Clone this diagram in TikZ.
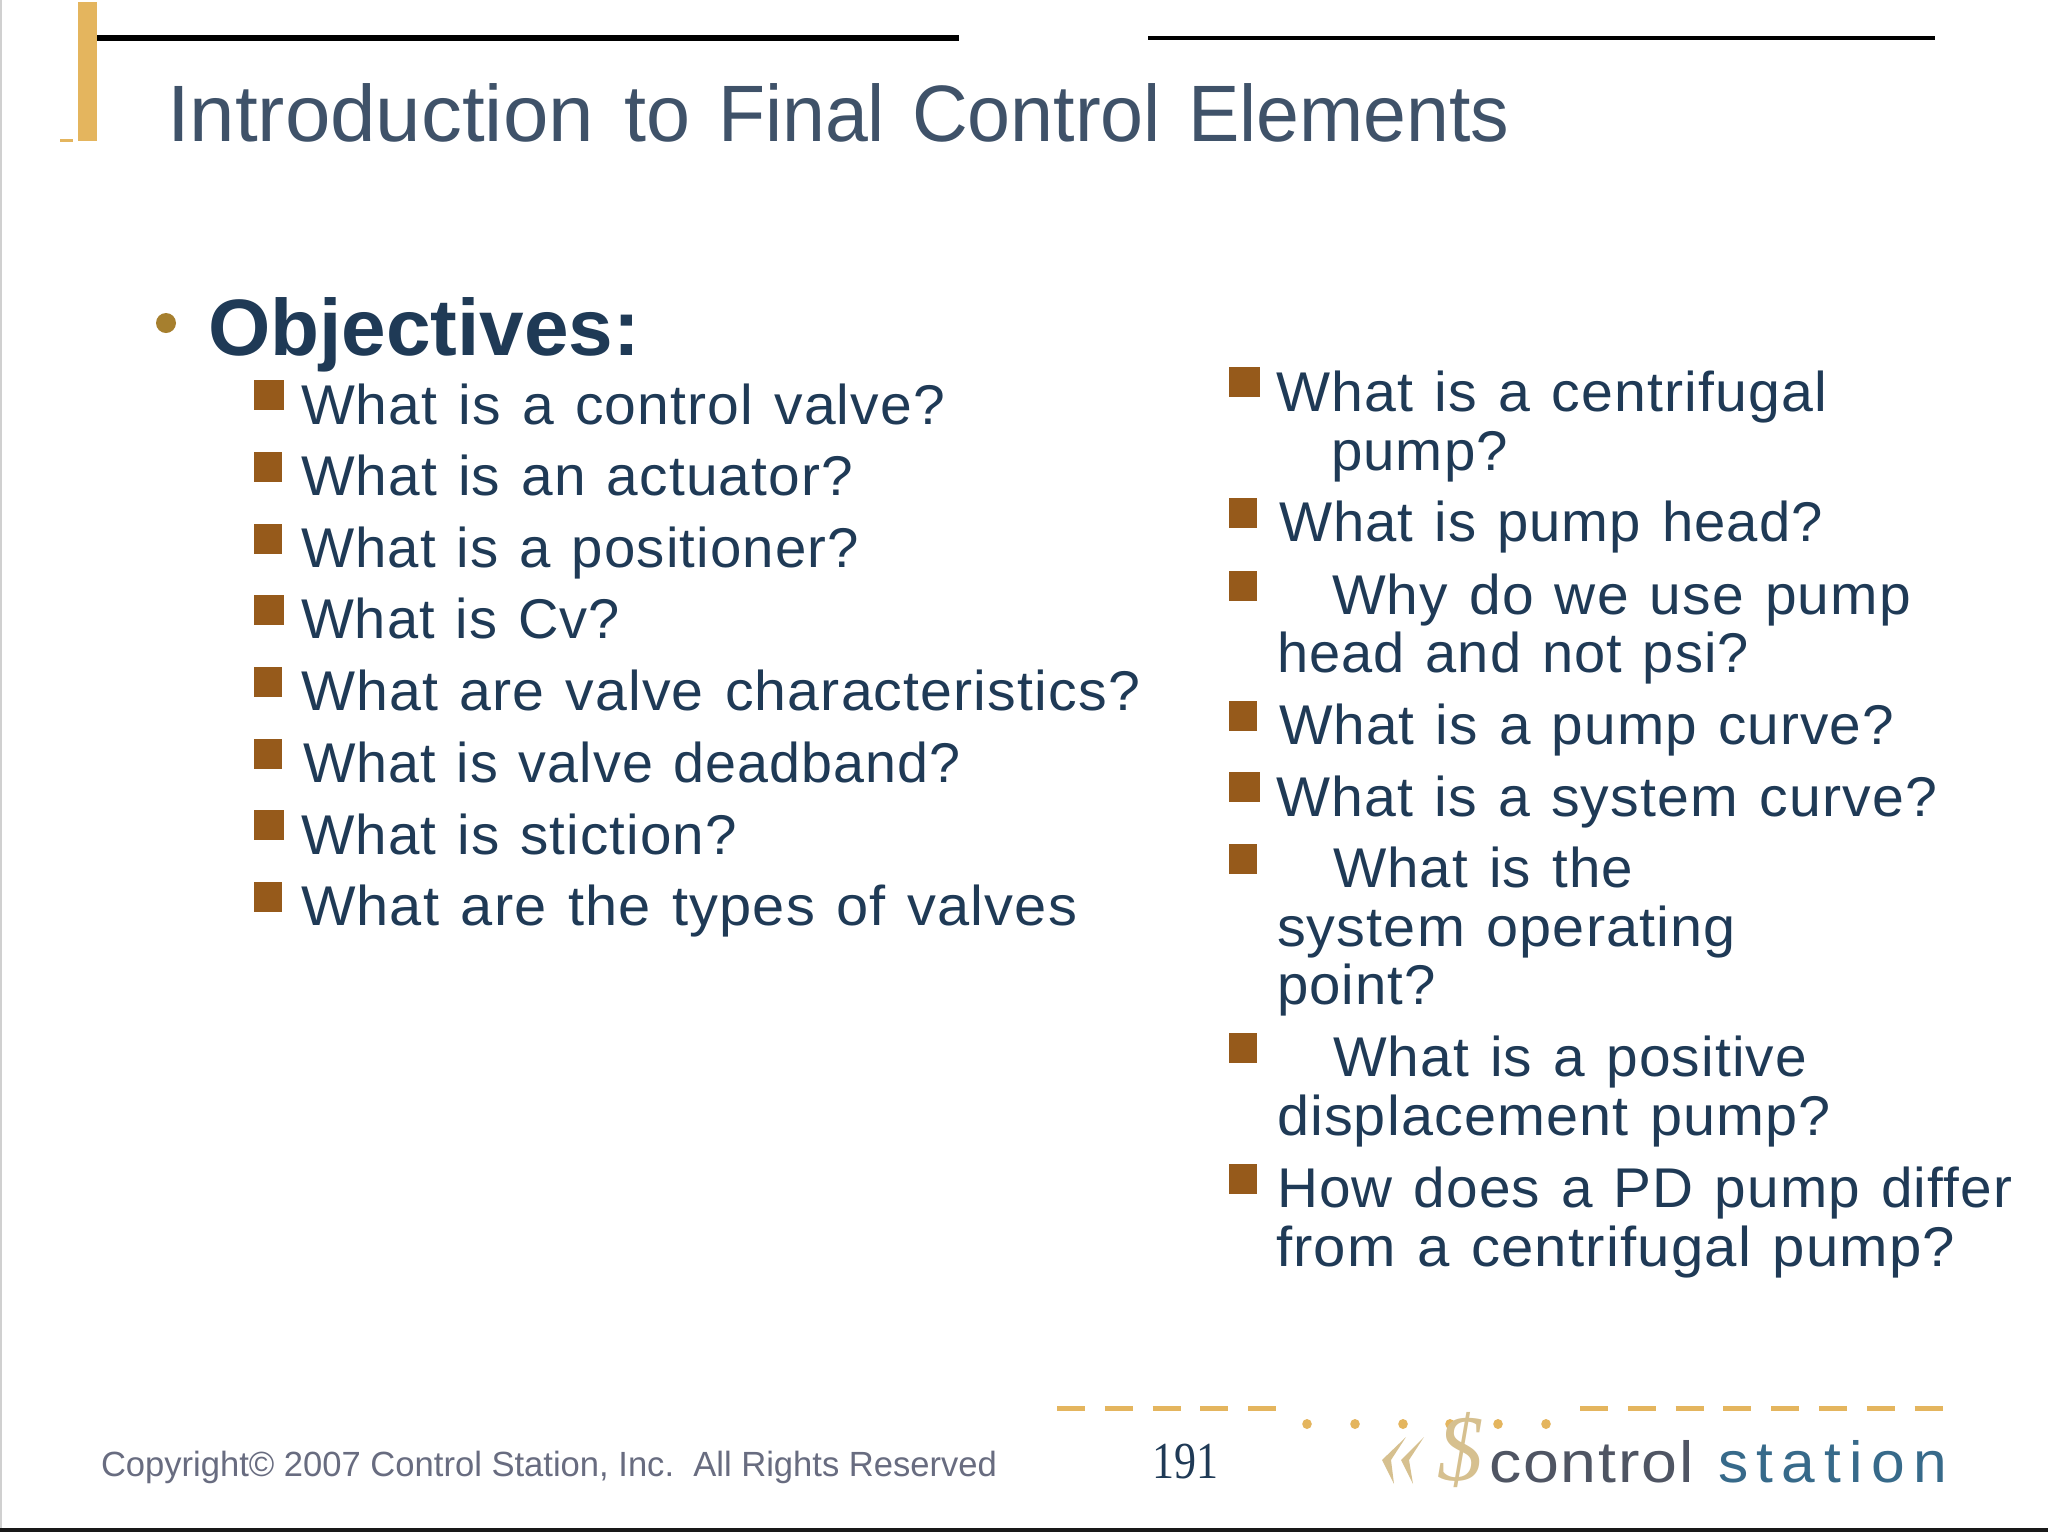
\documentclass[tikz,border=0pt]{standalone}
\usepackage{graphicx}
\usepackage{fontspec}
\setmainfont{Liberation Sans}
\newfontfamily\itemfont[LetterSpace=2,WordSpace=1.25]{Liberation Sans}
\newfontfamily\logofont[LetterSpace=3]{Liberation Sans}
\newfontfamily\logofontb[LetterSpace=14]{Liberation Sans}
\newfontfamily\serifnum{Liberation Serif}
\definecolor{barcol}{HTML}{E4B55E}
\definecolor{titlecol}{HTML}{3F5269}
\definecolor{navy}{HTML}{1F3A56}
\definecolor{brown}{HTML}{965A1B}
\definecolor{dotcol}{HTML}{A67F2E}
\definecolor{logotan}{HTML}{D6C08F}
\definecolor{logogray}{HTML}{4F5563}
\definecolor{logoblue}{HTML}{376A8A}
\definecolor{copycol}{HTML}{686C80}
\definecolor{edgecol}{HTML}{D0D0D0}
\newsavebox{\fitbox}
% fit text to a given width, keeping its height
\newcommand{\fitw}[2]{\sbox{\fitbox}{#2}\pgfmathparse{#1/\wd\fitbox}\scalebox{\pgfmathresult}[1]{\usebox{\fitbox}}}
\tikzset{
  txt/.style={anchor=base west,inner sep=0pt,outer sep=0pt},
  sq/.style={fill=brown,draw=none},
  barfill/.style={fill=barcol,draw=none},
  dashline/.style={barcol,line width=5pt,dash pattern=on 28pt off 19.8pt},
  itemtxt/.style={txt,text=navy,font=\itemfont\fontsize{56}{62}\selectfont},
}
% name, x-left, baseline, x-right, text
\newcommand{\litem}[5]{\pgfmathsetmacro{\litw}{#4-#2}\node[itemtxt] (#1) at (#2,#3) {\fitw{\litw}{#5}};}
\newcommand{\sqb}[3]{\fill[sq] (#1,#2) rectangle (#1+#3,#2+30);}
\begin{document}
\begin{tikzpicture}[x=1pt,y=-1pt]
\useasboundingbox (0,0) rectangle (2048,1532);
\fill[white] (0,0) rectangle (2048,1532);
% frame edges
\fill[edgecol] (0,0) rectangle (2,1528);
\fill[black!90] (0,1528) rectangle (2048,1532);
% header
\fill[barfill] (78,2) rectangle (97,141);
\fill[barfill] (60,139) rectangle (73,142);
\fill[black] (97,35) rectangle (959,41);
\fill[black] (1148,36) rectangle (1935,40);
\node[txt,text=titlecol,font=\fontsize{80}{92}\selectfont] (title) at (167,141) {\fitw{427}{Introduction}\ \hspace{7.8pt}\fitw{66}{to}\ \hspace{5.8pt}\fitw{167}{Final}\ \hspace{4.8pt}\fitw{249}{Control}\ \hspace{4.8pt}\fitw{321}{Elements}};
% objectives
\fill[dotcol] (166,323) ellipse (10 and 10);
\node[txt,text=navy,font=\bfseries\fontsize{80}{92}\selectfont] (obj) at (208,355) {\fitw{432}{Objectives:}};
% left column
\sqb{254}{380}{30}\sqb{254}{452}{28}\sqb{254}{524}{28}\sqb{254}{595}{30}\sqb{254}{667}{28}\sqb{254}{739}{28}\sqb{254}{810}{30}\sqb{254}{882}{28}
\litem{l1}{301}{424}{945}{What is a control valve?}
\litem{l2}{301}{495}{853}{What is an actuator?}
\litem{l3}{301}{567}{859}{What is a positioner?}
\litem{l4}{301}{638}{620}{What is Cv?}
\litem{l5}{301}{710}{1140}{What are valve characteristics?}
\litem{l6}{303}{782}{961}{What is valve deadband?}
\litem{l7}{301}{854}{737}{What is stiction?}
\litem{l8}{301}{925}{1077}{What are the types of valves}
% right column
\sqb{1229}{367}{31}\sqb{1229}{498}{28}\sqb{1229}{571}{28}\sqb{1229}{701}{28}\sqb{1229}{772}{31}\sqb{1229}{844}{28}\sqb{1229}{1033}{28}\sqb{1229}{1164}{28}
\litem{r1}{1276}{411}{1827}{What is a centrifugal}
\litem{r2}{1331}{470}{1508}{pump?}
\litem{r3}{1279}{541}{1823}{What is pump head?}
\litem{r4}{1332}{614}{1911}{Why do we use pump}
\litem{r5}{1277}{672}{1749}{head and not psi?}
\litem{r6}{1279}{744}{1894}{What is a pump curve?}
\litem{r7}{1276}{816}{1937}{What is a system curve?}
\litem{r8}{1333}{887}{1633}{What is the}
\litem{r9}{1277}{946}{1736}{system operating}
\litem{r10}{1277}{1004}{1436}{point?}
\litem{r11}{1333}{1076}{1807}{What is a positive}
\litem{r12}{1277}{1135}{1831}{displacement pump?}
\litem{r13}{1277}{1207}{2012}{How does a PD pump differ}
\litem{r14}{1276}{1266}{1955}{from a centrifugal pump?}
% footer
\node[txt,text=copycol,font=\fontsize{35}{40}\selectfont] (copy) at (101,1476) {\fitw{896}{Copyright© 2007 Control Station, Inc.\ \ All Rights Reserved}};
\node[txt,text=navy,font=\serifnum\fontsize{52}{60}\selectfont] (page) at (1152,1478) {\fitw{66}{191}};
\draw[dashline] (1057,1408) -- (1280,1408);
\draw[dashline] (1580,1408) -- (1945,1408);
\foreach \dx in {1307,1355,1403,1450,1498,1546}{\fill[barcol] (\dx,1424) ellipse (4.8 and 5);}
% logo
\fill[logotan] (1406,1437) -- (1382,1460) -- (1394,1484) -- (1391,1460) -- cycle;
\fill[logotan] (1424,1437) -- (1401,1460) -- (1413,1484) -- (1409,1460) -- cycle;
\node[anchor=base west,inner sep=0pt,text=logotan] (dollar) at (1437,1480) {\resizebox{46pt}{68pt}{\serifnum\itshape\$}};
\node[txt,text=logogray,font=\logofont\fontsize{58}{66}\selectfont] (lcontrol) at (1489,1482) {\fitw{205}{control}};
\node[txt,text=logoblue,font=\logofontb\fontsize{58}{66}\selectfont] (lstation) at (1718,1482) {\fitw{229}{station}};
\end{tikzpicture}
\end{document}
